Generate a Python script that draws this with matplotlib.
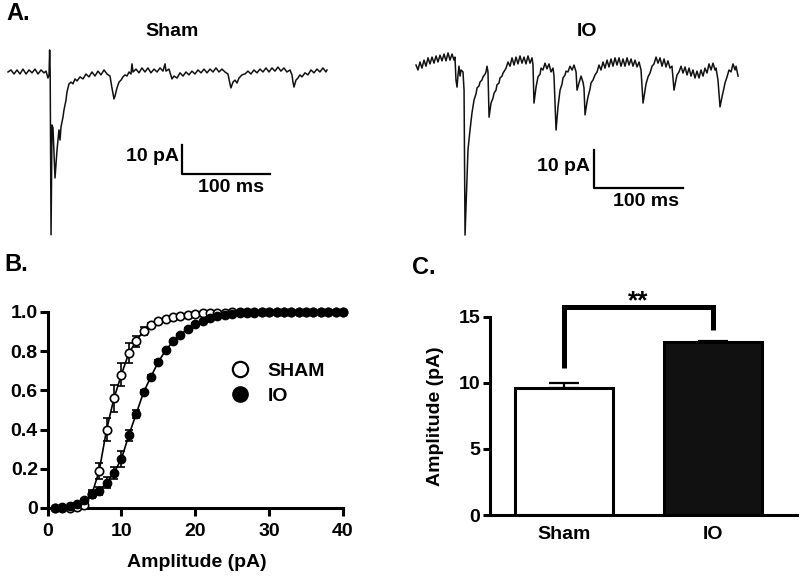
import numpy as np
import matplotlib
matplotlib.use("Agg")
import matplotlib.pyplot as plt
from matplotlib.lines import Line2D

plt.rcParams['font.family'] = ['Liberation Sans', 'DejaVu Sans']
plt.rcParams['font.weight'] = 'bold'
plt.rcParams['axes.labelweight'] = 'bold'

# ---- panel A: example traces (time in ms, current in pA) ----
sham_t = [0, 3.4, 6.8, 10.2, 13.6, 17, 20.5, 23.9, 27.3, 30.7, 34.1, 37.5, 40.9, 43.2, 45.4, 46.6,
          47.3, 47.9, 48.9, 50, 51.1, 53.4, 55.7, 57.9, 59.1, 60.2, 62.5, 63.6, 65.9, 67, 69.3, 71.6,
          73.8, 76.1, 78.4, 81.8, 85.2, 88.6, 92, 95.4, 98.8, 102.2, 105.6, 109.1, 112.5, 115.9, 118.1,
          120.4, 121.6, 123.8, 126.1, 128.4, 130.6, 132.9, 135.2, 137.5, 139.7, 140.9, 142, 145.4, 148.8,
          152.2, 155.6, 159, 162.4, 165.9, 169.3, 172.7, 176.1, 178.4, 179.5, 182.9, 186.3, 188.6, 192,
          195.4, 198.8, 202.2, 205.6, 209, 212.4, 215.8, 219.3, 222.7, 226.1, 229.5, 232.9, 236.3, 239.7,
          243.1, 246.5, 249.9, 252.2, 253.3, 255.6, 257.9, 260.2, 262.4, 265.8, 269.2, 272.6, 276, 279.4,
          282.9, 286.3, 289.7, 293.1, 296.5, 299.9, 303.3, 306.7, 310.1, 313.5, 316.9, 320.4, 322.6, 323.8,
          324.9, 327.2, 329.4, 331.7, 334, 337.4, 340.8, 344.2, 347.6, 351, 354.4, 357.8, 361.2, 362.4]
sham_i = [0, 0.7, -0.7, 0.7, -0.7, 1.0, -0.7, 0.7, -0.3, 1.0, -0.7, 0.7, -0.3, 0.3, -2.1, -1.0,
          7.6, 0, -56.2, -18.3, -19.3, -36.6, -26.9, -20, -23.5, -19, -15.5, -13.1, -9.7, -6.9, -4.1, -3.5,
          -4.1, -2.4, -3.1, -1.7, -2.4, -0.7, -1.7, 0, -1.4, 0.3, -1.0, 0.7, -0.7, -1.4, -5.5,
          -9.3, -8.3, -5.5, -3.5, -2.8, -1.7, -1.0, -1.4, 0, -0.7, 2.8, 0, 1.0, -0.3,
          1.4, 0, 1.4, -0.3, 1.0, 0, 1.4, 0.3, 2.8, 0.3, 1.0, -2.4, -1.4, -2.1,
          -0.3, -1.4, 0, -1.0, 0.3, -0.7, 0.7, -0.3, 1.0, -0.3, 1.0, 0, 1.4, 0,
          1.0, 0, -0.7, -4.1, -5.5, -3.5, -2.8, -3.8, -2.1, -1.0, -0.7, 0.3, -0.7, 0.7,
          -0.3, 1.0, 0, 1.4, 0, 1.4, 0.3, 1.7, 0.3, 1.4, 0, 0.7, -1.0, -3.5,
          -5.2, -2.8, -2.1, -1.0, -1.7, -0.3, -1.0, 0.7, -0.3, 1.0, 0, 1.4, 0, 0.7]

io_t = [0, 2.2, 4.5, 6.7, 9.0, 11.2, 13.5, 15.7, 18.0, 20.2, 22.5, 24.7, 27.0, 29.2, 31.5, 33.7,
        36.0, 38.2, 40.5, 42.7, 43.8, 44.9, 46.1, 47.2, 48.3, 49.5, 50.6, 52.8, 54.0, 55.1, 56.8, 58.4,
        60.7, 62.9, 65.2, 67.4, 68.6, 70.8, 71.9, 74.2, 75.3, 77.6, 78.7, 79.8, 80.9, 82.1, 84.3, 86.5,
        87.7, 89.9, 91.0, 93.3, 94.4, 96.7, 97.8, 100.0, 101.2, 103.4, 105.7, 107.9, 110.2, 112.4, 114.6,
        116.9, 119.1, 121.4, 123.6, 125.9, 128.1, 130.4, 131.5, 132.6, 134.9, 137.1, 139.4, 140.5, 142.7,
        145.0, 147.2, 149.5, 151.7, 154.0, 155.1, 157.4, 159.6, 161.9, 164.1, 165.2, 167.5, 168.6, 170.8,
        173.1, 175.4, 177.6, 179.9, 181.0, 183.2, 185.5, 187.7, 188.8, 190.0, 192.2, 193.3, 195.6, 196.7,
        199.0, 201.2, 203.5, 205.7, 207.9, 210.2, 212.4, 214.7, 216.9, 219.2, 221.4, 223.7, 225.9, 228.2,
        230.4, 232.7, 234.9, 237.2, 239.4, 241.7, 243.9, 246.2, 248.4, 250.7, 252.9, 255.2, 257.4, 258.5,
        260.8, 263.0, 265.3, 267.5, 269.8, 272.0, 274.3, 276.5, 278.8, 281.0, 283.2, 285.5, 287.7, 290.0,
        292.2, 293.4, 295.6, 297.9, 300.1, 302.4, 304.6, 306.9, 309.1, 311.3, 313.6, 315.8, 318.1, 320.3,
        322.6, 324.8, 327.1, 329.3, 331.6, 333.8, 336.1, 337.2, 339.4, 341.7, 343.9, 346.2, 347.3, 349.6,
        351.8, 354.1, 356.3, 358.6, 359.7, 362.0]
io_i = [-0.8, -2.1, 0, -1.6, 0.5, -1.1, 1.1, -0.5, 1.3, -0.3, 1.6, 0, 1.8, 0.3, 2.1, 0.3,
        2.4, 0.5, 2.1, 0.5, 1.3, -4.7, -6.6, -3.4, -1.1, -3.7, -2.1, -2.6, -7.4, -45.5, -33.7, -23.1,
        -17.9, -13.4, -10.0, -8.4, -6.8, -6.3, -5.3, -4.7, -3.9, -3.2, -2.6, -1.1, -2.6, -14.5, -10.8, -9.5,
        -8.2, -7.4, -6.0, -5.5, -4.2, -3.7, -2.9, -2.1, -1.6, 0, -1.1, 1.1, -0.8, 1.3, -0.5,
        1.6, -0.3, 1.3, -0.5, 1.6, -0.3, 1.1, -0.8, -10.8, -6.6, -3.9, -3.2, -1.6, -2.1,
        -0.3, -1.8, -0.5, -2.6, -1.6, -3.7, -17.9, -11.8, -7.4, -5.8, -4.2, -3.4, -2.4, -2.6,
        -1.1, -2.1, -0.8, -2.6, -7.4, -5.5, -3.7, -5.3, -6.8, -13.9, -10.5, -9.2, -7.1, -5.5,
        -4.7, -3.4, -2.6, -0.8, -2.1, 0, -1.6, 0.5, -1.3, 0.8, -1.1, 1.1, -0.8, 1.1,
        -1.1, 0.8, -1.1, 1.1, -0.8, 0.8, -1.1, 0.5, -1.3, 0, -2.1, -10.8, -7.4, -5.8,
        -3.9, -2.9, -1.1, -0.5, 1.3, -0.3, 1.1, -1.1, 0.8, -1.3, 0.3, -1.6, -1.1, -7.4,
        -4.7, -3.4, -2.6, -1.1, -2.9, -1.3, -3.4, -1.6, -3.7, -2.1, -4.2, -2.4, -4.2, -2.1,
        -3.7, -1.6, -2.9, -0.5, -2.1, -0.3, -2.1, -1.6, -4.7, -11.8, -9.2, -6.8, -5.5, -3.9,
        -2.1, -2.6, -0.5, -2.1, -1.1, -3.7]

# ---- panel B: cumulative amplitude distribution ----
amp = list(range(1, 41))
sham_cum = [0, 0, 0.002, 0.005, 0.015, 0.07, 0.19, 0.40, 0.56, 0.68, 0.79, 0.85, 0.905, 0.935, 0.953,
            0.965, 0.975, 0.982, 0.987, 0.99, 0.993, 0.995, 0.996, 0.997, 0.998, 0.999, 0.999, 0.999,
            1, 1, 1, 1, 1, 1, 1, 1, 1, 1, 1, 1]
sham_sem = [0, 0, 0, 0, 0.005, 0.02, 0.04, 0.06, 0.07, 0.06, 0.05, 0.03, 0.02, 0.01, 0.005,
            0.005, 0.005, 0.005, 0.005, 0.005, 0, 0, 0, 0, 0, 0, 0, 0, 0, 0, 0, 0, 0, 0, 0, 0, 0, 0, 0, 0]
io_cum = [0.002, 0.005, 0.01, 0.02, 0.04, 0.07, 0.085, 0.13, 0.18, 0.25, 0.37, 0.48, 0.59, 0.67, 0.745,
          0.805, 0.85, 0.885, 0.915, 0.94, 0.955, 0.968, 0.978, 0.985, 0.99, 0.993, 0.995, 0.997, 0.998,
          0.998, 0.999, 0.999, 0.999, 1, 1, 1, 1, 1, 1, 1]
io_sem = [0, 0, 0, 0, 0.005, 0.01, 0.02, 0.03, 0.03, 0.04, 0.03, 0.02, 0.01, 0.01, 0.01,
          0.005, 0.005, 0.005, 0.005, 0.005, 0, 0, 0, 0, 0, 0, 0, 0, 0, 0, 0, 0, 0, 0, 0, 0, 0, 0, 0, 0]

# ---- panel C: mean amplitude ----
groups = ['Sham', 'IO']
mean_amp = [9.6, 13.05]
sem_amp = [0.4, 0.1]

W, H = 800, 579
FS = 14
fig = plt.figure(figsize=(W / 100, H / 100), dpi=100)


def px_rect(x0, y0, x1, y1):
    return [x0 / W, 1 - y1 / H, (x1 - x0) / W, (y1 - y0) / H]


def fig_pt(x, y):
    return x / W, 1 - y / H


# traces
axS = fig.add_axes(px_rect(0, 40, 340, 240))
axS.set_xlim(-9.1, 377.2)
axS.set_ylim(-58, 11.04)
axS.plot(sham_t, sham_i, color='#111111', lw=1.1)
axS.plot([197.7, 197.7, 297.7], [-25.2, -35.2, -35.2], color='black', lw=1.6)
axS.text(194.3, -29.3, '10 pA', ha='right', va='center', fontsize=FS)
axS.text(253.3, -40.0, '100 ms', ha='center', va='center', fontsize=FS)
axS.axis('off')

axI = fig.add_axes(px_rect(400, 40, 800, 240))
axI.set_xlim(-18, 431.6)
axI.set_ylim(-46.8, 5.79)
axI.plot(io_t, io_i, color='#111111', lw=1.1)
axI.plot([200.1, 200.1, 300.1], [-23.1, -33.1, -33.1], color='black', lw=1.6)
axI.text(195.6, -27.6, '10 pA', ha='right', va='center', fontsize=FS)
axI.text(258.5, -36.8, '100 ms', ha='center', va='center', fontsize=FS)
axI.axis('off')

fig.text(*fig_pt(172, 31), 'Sham', ha='center', va='center', fontsize=FS)
fig.text(*fig_pt(587, 31), 'IO', ha='center', va='center', fontsize=FS)

fig.text(*fig_pt(6, 14), 'A.', ha='left', va='center', fontsize=17)
fig.text(*fig_pt(4, 265), 'B.', ha='left', va='center', fontsize=17)
fig.text(*fig_pt(412, 267), 'C.', ha='left', va='center', fontsize=17)

# cumulative plot
axB = fig.add_axes(px_rect(47.5, 312, 343, 508))
axB.errorbar(amp, sham_cum, yerr=sham_sem, fmt='-o', color='black', mfc='white', mec='black',
             ms=6, mew=1.2, lw=1.2, elinewidth=1.2, capsize=3, capthick=1.2, clip_on=False, zorder=3)
axB.errorbar(amp, io_cum, yerr=io_sem, fmt='-o', color='black', mfc='black', mec='black',
             ms=6, lw=1.2, elinewidth=1.2, capsize=3, capthick=1.2, clip_on=False, zorder=4)
axB.set_xlim(0, 40)
axB.set_ylim(0, 1)
axB.set_xticks([0, 10, 20, 30, 40])
axB.set_yticks([0, 0.2, 0.4, 0.6, 0.8, 1.0])
axB.set_yticklabels(['0', '0.2', '0.4', '0.6', '0.8', '1.0'])
axB.set_xlabel('Amplitude (pA)', fontsize=FS)
axB.xaxis.set_label_coords(0.506, -0.235)
for s in ['top', 'right']:
    axB.spines[s].set_visible(False)
for s in ['left', 'bottom']:
    axB.spines[s].set_linewidth(2.2)
axB.tick_params(axis='both', direction='out', length=6, width=2.2, labelsize=FS)
axB.tick_params(axis='y', pad=1)
axB.tick_params(axis='x', pad=5)

handles = [Line2D([], [], marker='o', ls='none', mfc='white', mec='black', ms=11, mew=1.6),
           Line2D([], [], marker='o', ls='none', mfc='black', mec='black', ms=11)]
axB.legend(handles, ['SHAM', 'IO'], loc='center left', bbox_to_anchor=(0.56, 0.635),
           frameon=False, fontsize=FS, handlelength=1.0, handletextpad=0.9, labelspacing=0.35)

# bar plot
axC = fig.add_axes(px_rect(490, 316.7, 797, 515))
pos = [0, 1]
axC.bar(pos, mean_amp, width=0.66, color=['white', '#111111'], edgecolor='black', linewidth=2.2, zorder=2)
axC.errorbar(pos, mean_amp, yerr=[[0, 0], sem_amp], fmt='none', ecolor='black',
             elinewidth=1.6, capsize=10.8, capthick=1.6, zorder=3)
axC.plot([0, 0, 1, 1], [11.1, 15.7, 15.7, 14.0], color='black', lw=3.6, clip_on=False,
         solid_joinstyle='miter', solid_capstyle='butt')
axC.text(0.5, 16.2, '**', ha='center', va='center', fontsize=19, clip_on=False)
axC.set_xlim(-0.497, 1.564)
axC.set_ylim(0, 15)
axC.set_yticks([0, 5, 10, 15])
axC.set_xticks(pos)
axC.set_xticklabels(groups)
axC.set_ylabel('Amplitude (pA)', fontsize=FS)
axC.yaxis.set_label_coords(-0.15, 0.5)
for s in ['top', 'right']:
    axC.spines[s].set_visible(False)
for s in ['left', 'bottom']:
    axC.spines[s].set_linewidth(2.2)
axC.tick_params(axis='y', direction='out', length=5, width=2.2, labelsize=FS, pad=2)
axC.tick_params(axis='x', length=0, labelsize=FS, pad=8)

fig.savefig('out.png', dpi=100)
